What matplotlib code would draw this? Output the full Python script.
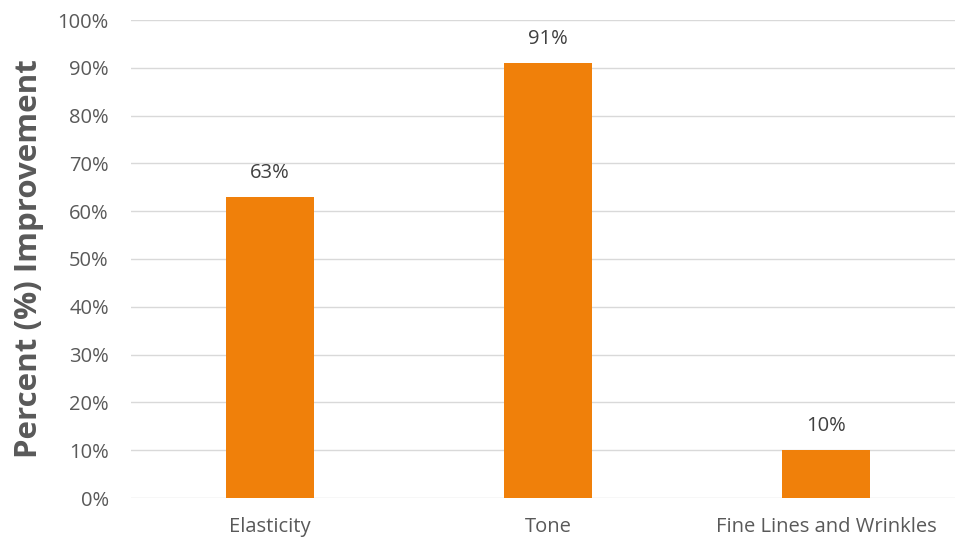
import matplotlib.pyplot as plt
from matplotlib.ticker import PercentFormatter

categories = ['Elasticity', 'Tone', 'Fine Lines and Wrinkles']
improvement = [63, 91, 10]
y_ticks = list(range(0, 101, 10))

plt.rcParams['font.family'] = ['Open Sans', 'DejaVu Sans']

fig = plt.figure(figsize=(9.55, 5.4), dpi=100)
ax = fig.add_axes([131 / 955, 42 / 540, 1 - 131 / 955, 478 / 540])

x = range(len(categories))
bars = ax.bar(x, improvement, width=0.313, color='#F0800A', zorder=3)

for b, v in zip(bars, improvement):
    ax.text(b.get_x() + b.get_width() / 2, v + 3.0, f'{v}%', ha='center', va='bottom',
            fontsize=14.5, color='#404040')

ax.set_xlim(-0.5, (955 - 270) / 278)
ax.set_ylim(0, 100)
ax.set_yticks(y_ticks)
ax.yaxis.set_major_formatter(PercentFormatter(decimals=0))
ax.set_xticks(list(x))
ax.set_xticklabels(categories)
ax.grid(axis='y', color='#D9D9D9', linewidth=1, zorder=0)
for s in ax.spines.values():
    s.set_visible(False)
ax.tick_params(axis='both', length=0, labelsize=14.5, labelcolor='#595959')
ax.tick_params(axis='y', pad=16)
ax.tick_params(axis='x', pad=14)
ax.set_ylabel('Percent (%) Improvement', fontsize=22.5, fontweight='bold', color='#595959', labelpad=10)

fig.savefig('out.png', dpi=100)
